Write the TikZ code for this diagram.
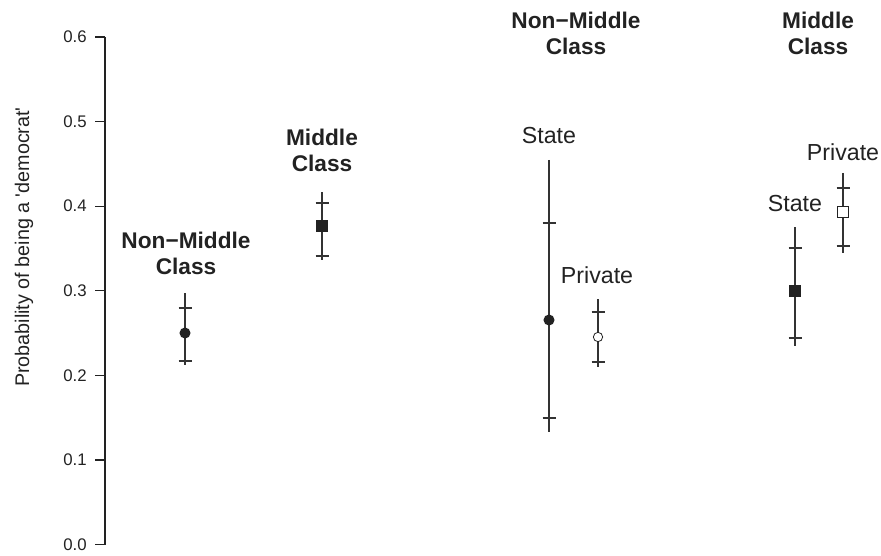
\documentclass[tikz,border=0pt]{standalone}
\usepackage{fontspec}
\setmainfont{Liberation Sans}
\definecolor{ink}{HTML}{222222}
\definecolor{barc}{HTML}{333333}
\tikzset{
  grp/.style={font=\bfseries\fontsize{17}{19.5}\selectfont, align=center, text=ink, inner sep=0pt},
  sub/.style={font=\fontsize{17.4}{20}\selectfont, text=ink, inner sep=0pt},
  ticklab/.style={font=\fontsize{12.6}{14}\selectfont, text=ink, anchor=east, inner sep=0pt},
  axisline/.style={draw=ink, line width=0.9pt},
  bar/.style={draw=barc, line width=1pt},
  fdot/.style={circle, fill=ink, minimum size=8.3pt, inner sep=0pt},
  odot/.style={circle, draw=ink, fill=white, line width=0.6pt, minimum size=7pt, inner sep=0pt},
  fsq/.style={rectangle, fill=ink, minimum size=9.6pt, inner sep=0pt},
  osq/.style={rectangle, draw=ink, fill=white, line width=0.7pt, minimum size=8.3pt, inner sep=0pt}
}
\begin{document}
\begin{tikzpicture}[x=0.75pt,y=-0.75pt]
\useasboundingbox (0,0) rectangle (881,556);
% axis
\coordinate (ytop) at (105,37);
\coordinate (ybot) at (105,544.5);
\draw[axisline] (ytop) -- (ybot);
\foreach \v/\lab in {0/0.0,1/0.1,2/0.2,3/0.3,4/0.4,5/0.5,6/0.6}{
  \coordinate (t\v) at (105,{544.5-84.58*\v});
  \coordinate (tl\v) at (95,{544.5-84.58*\v});
  \draw[axisline] (t\v) -- (tl\v);
  \node[ticklab] (lab\v) at (87,{544.5-84.58*\v}) {\lab};
}
\node[font=\fontsize{14.8}{16}\selectfont, text=ink, rotate=90, inner sep=0pt] (ytitle) at (24,247) {Probability of being a \textquotesingle democrat\textquotesingle};
% error bars: name/x/top/uppertick/point/lowertick/bottom
\foreach \n/\x/\a/\b/\c/\d/\e in {nm/185/293/308/333/361/365, mc/322/192/203/226/256/260, ns/549/160/223/320/418/432, np/598/299/312/337/362/367, ms/795/227/248/291/338/346, mp/843/173/188/212/246/253}{
  \coordinate (\n top) at (\x,\a);
  \coordinate (\n bot) at (\x,\e);
  \coordinate (\n ul) at (\x-6.5,\b);
  \coordinate (\n ur) at (\x+6.5,\b);
  \coordinate (\n ll) at (\x-6.5,\d);
  \coordinate (\n lr) at (\x+6.5,\d);
  \coordinate (\n pt) at (\x,\c);
  \draw[bar] (\n top) -- (\n bot);
  \draw[bar] (\n ul) -- (\n ur);
  \draw[bar] (\n ll) -- (\n lr);
}
\node[fdot] (nmpoint) at (nmpt) {};
\node[fsq] (mcpoint) at (mcpt) {};
\node[fdot] (nspoint) at (nspt) {};
\node[odot] (nppoint) at (nppt) {};
\node[fsq] (mspoint) at (mspt) {};
\node[osq] (mppoint) at (mppt) {};
% labels
\node[grp] (g1) at (186,253) {Non−Middle\\Class};
\node[grp] (g2) at (322,150) {Middle\\Class};
\node[grp] (g3) at (576,33) {Non−Middle\\Class};
\node[grp] (g4) at (818,33) {Middle\\Class};
\node[sub] (s1) at (549,136) {State};
\node[sub] (p1) at (597,275) {Private};
\node[sub] (s2) at (795,204) {State};
\node[sub] (p2) at (843,152) {Private};
\end{tikzpicture}
\end{document}
